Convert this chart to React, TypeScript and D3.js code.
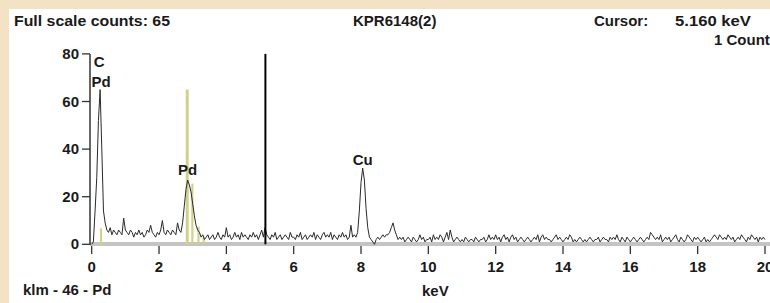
import React from 'react'
import * as d3 from 'd3'

// spectrum counts, one value every 0.05 keV from 0 to 20 keV (one row per keV)
const channelWidth = 0.05
const counts: number[] = [
  0, 1, 14, 28, 52, 65, 40, 14, 9, 6, 5, 7, 4, 6, 5, 4, 6, 5, 4, 11,
  6, 5, 4, 6, 5, 3, 5, 4, 6, 4, 5, 3, 4, 6, 5, 8, 5, 4, 3, 5,
  4, 6, 10, 5, 4, 6, 5, 4, 6, 5, 4, 9, 6, 5, 9, 16, 23, 27, 25, 22,
  17, 12, 8, 6, 5, 3, 4, 2, 3, 4, 2, 3, 4, 2, 3, 5, 3, 2, 4, 3,
  7, 3, 4, 2, 3, 5, 3, 4, 2, 5, 3, 4, 3, 2, 4, 3, 5, 3, 4, 2,
  4, 6, 3, 7, 4, 3, 2, 4, 3, 5, 2, 3, 4, 2, 3, 4, 3, 2, 5, 3,
  3, 2, 4, 3, 5, 2, 3, 4, 2, 3, 4, 3, 5, 2, 4, 3, 2, 4, 5, 3,
  4, 3, 5, 2, 4, 3, 2, 4, 3, 5, 3, 4, 2, 3, 8, 3, 4, 3, 5, 14,
  26, 32, 27, 15, 7, 3, 2, 1, 0, 2, 3, 2, 3, 4, 3, 4, 4, 5, 7, 9,
  6, 4, 2, 3, 2, 3, 1, 2, 3, 2, 1, 3, 2, 1, 2, 4, 2, 3, 1, 2,
  2, 3, 1, 4, 2, 3, 2, 4, 3, 1, 3, 5, 2, 6, 3, 1, 2, 3, 2, 1,
  2, 1, 3, 2, 1, 2, 2, 1, 3, 2, 1, 2, 2, 3, 1, 2, 4, 2, 3, 2,
  4, 2, 3, 1, 3, 4, 2, 3, 1, 3, 4, 2, 3, 1, 2, 3, 2, 1, 2, 3,
  2, 1, 2, 3, 2, 4, 1, 3, 4, 2, 3, 2, 2, 1, 2, 3, 4, 2, 3, 2,
  1, 2, 3, 2, 4, 3, 1, 2, 1, 2, 3, 2, 1, 2, 1, 2, 3, 2, 1, 2,
  2, 3, 1, 2, 3, 2, 2, 1, 3, 2, 3, 2, 4, 2, 1, 3, 2, 1, 3, 2,
  1, 2, 3, 2, 1, 2, 3, 2, 1, 2, 3, 2, 5, 4, 3, 2, 3, 2, 4, 1,
  2, 3, 2, 3, 1, 2, 3, 4, 2, 1, 3, 2, 1, 2, 4, 3, 2, 1, 3, 2,
  3, 2, 1, 2, 3, 1, 2, 1, 2, 3, 4, 3, 2, 4, 3, 2, 3, 2, 4, 3,
  2, 3, 1, 2, 3, 2, 4, 3, 2, 1, 3, 2, 4, 3, 2, 3, 1, 3, 2, 3,
  2,
]

// KLM marker lines (keV, height in counts)
const markerKeV = [0.277, 2.838, 2.99, 3.172, 3.328]
const markerHeight = [6.7, 65, 25.5, 7.4, 3.2]

// peak labels
const peakNames = ['C', 'Pd', 'Pd', 'Cu']
const peakKeV = [0.22, 0.28, 2.85, 8.05]
const peakLevel = [74.7, 66.3, 29, 33.5]

const xTicks = [0, 2, 4, 6, 8, 10, 12, 14, 16, 18, 20]
const yTicks = [0, 20, 40, 60, 80]

const cursorKeV = 5.16
const fullScale = 65
const title = 'KPR6148(2)'
const cursorText = '5.160 keV'
const cursorCounts = '1 Counts'
const footer = 'klm - 46 - Pd'

const W = 770
const H = 303
const font = '"Liberation Sans", Arial, sans-serif'

export default function App() {
  const x = d3.scaleLinear().domain([0, 20]).range([91.7, 765])
  const y = d3.scaleLinear().domain([0, 80]).range([244.3, 53.9])

  const line = d3.line<number>()
    .x((d, i) => x(i * channelWidth))
    .y(d => y(d))

  const txt = { fontFamily: font, fontWeight: 700, fontSize: 15, fill: '#1a1a1a' } as const

  return (
    <div style={{ position: 'absolute', left: 0, top: 0 }}>
      <svg width={W} height={H} style={{ display: 'block' }}>
        <defs>
          <clipPath id="panel">
            <rect x={9} y={9} width={W - 9} height={H - 9} />
          </clipPath>
        </defs>
        <rect width={W} height={H} fill="#f3e2c3" />
        <rect x={9} y={9} width={W - 9} height={H - 9} fill="#fff" />

        <g clipPath="url(#panel)">
          {/* header */}
          <text x={14} y={26} {...txt} textLength={156} lengthAdjust="spacingAndGlyphs">Full scale counts: {fullScale}</text>
          <text x={353} y={26} {...txt}>{title}</text>
          <text x={594} y={26} {...txt}>Cursor:</text>
          <text x={675} y={26} {...txt} textLength={76} lengthAdjust="spacingAndGlyphs">{cursorText}</text>
          <text x={714} y={45} {...txt}>{cursorCounts}</text>

          {/* x axis band */}
          <line x1={90} x2={W} y1={244} y2={244} stroke="#c4c4c4" strokeWidth={4} />
          {xTicks.map(t => (
            <g key={t}>
              <line x1={x(t)} x2={x(t)} y1={246} y2={254} stroke="#333" strokeWidth={1.3} />
              <text x={x(t)} y={271.5} textAnchor="middle" {...txt}>{t}</text>
            </g>
          ))}

          {/* y axis */}
          <line x1={90} x2={90} y1={y(80)} y2={245} stroke="#333" strokeWidth={1.5} />
          {yTicks.map(t => (
            <g key={t}>
              <line x1={82} x2={90} y1={y(t)} y2={y(t)} stroke="#333" strokeWidth={1.3} />
              <text x={79} y={y(t) + 5} textAnchor="end" {...txt}>{t}</text>
            </g>
          ))}

          {/* klm markers */}
          {markerKeV.map((k, i) => (
            <line key={i} x1={x(k)} x2={x(k)} y1={y(0)} y2={y(markerHeight[i])}
              stroke="#d3d08a" strokeWidth={i === 1 ? 3 : 2.2} />
          ))}

          {/* spectrum */}
          <path d={line(counts) || ''} fill="none" stroke="#2a2a2a" strokeWidth={1} />

          {/* cursor */}
          <line x1={x(cursorKeV)} x2={x(cursorKeV)} y1={y(80)} y2={y(0)} stroke="#000" strokeWidth={2} />

          {peakNames.map((n, i) => (
            <text key={i} x={x(peakKeV[i])} y={y(peakLevel[i])} textAnchor="middle" {...txt}>{n}</text>
          ))}

          <text x={23} y={295} {...txt}>{footer}</text>
          <text x={422} y={296} {...txt}>keV</text>
        </g>
      </svg>
    </div>
  )
}
